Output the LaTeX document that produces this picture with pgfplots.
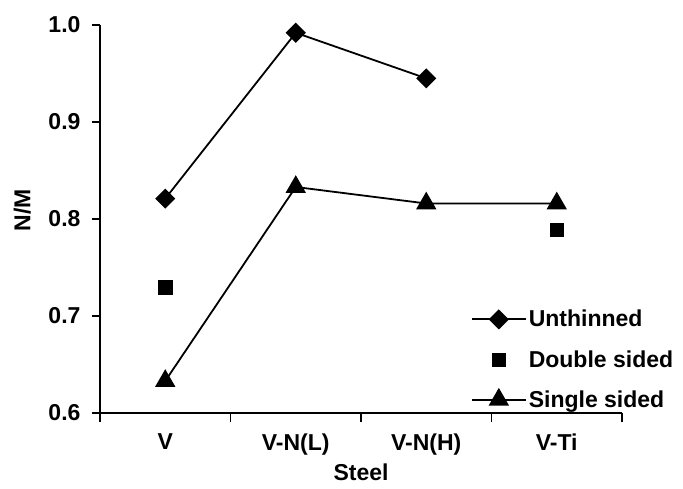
\documentclass[border=0pt]{standalone}
\usepackage{pgfplots}
\pgfplotsset{compat=1.18}
\usepackage{fontspec}
\setmainfont{Liberation Sans}

\begin{document}
\begin{tikzpicture}
\begin{axis}[
name=ax,
scale only axis,
width=522pt, height=388pt,
xmin=-0.5, xmax=3.5,
ymin=0.6, ymax=1.0,
axis x line*=bottom,
axis y line*=left,
axis line style={line width=1.3pt, black},
tick align=outside,
xtick={0,1,2,3},
xticklabels={V,V-N(L),V-N(H),V-Ti},
minor xtick={-0.5,0.5,1.5,2.5,3.5},
major x tick style={draw=none},
minor x tick style={line width=1.3pt, black},
major y tick style={line width=1.3pt, black},
major tick length=8pt,
minor tick length=9pt,
ytick={0.6,0.7,0.8,0.9,1.0},
yticklabel style={xshift=-8pt, /pgf/number format/.cd, fixed, fixed zerofill, precision=1, assume math mode=true},
xticklabel style={yshift=-9pt},
tick label style={font=\fontsize{23}{27}\selectfont\bfseries},
label style={font=\fontsize{23}{27}\selectfont\bfseries},
xlabel={Steel},
ylabel={N/M},
xlabel style={at={(axis description cs:0.5,-0.152)}, anchor=center},
ylabel style={at={(axis description cs:-0.149,0.523)}, anchor=center},
legend style={draw=none, fill=none, at={(1.108,0.0)}, anchor=south east,
  font=\fontsize{23}{27}\selectfont\bfseries, row sep=18pt},
legend cell align=left,
legend image code/.code={\draw[mark repeat=2,mark phase=2] plot coordinates {(0cm,0cm)(0.95cm,0cm)(1.9cm,0cm)};},
]
% Unthinned
\addplot [black, line width=1.8pt, mark=square*, mark size=6.2pt, mark options={rotate=45, solid}]
coordinates {(0,0.821) (1,0.992) (2,0.945)};
\addlegendentry{Unthinned}
% Double sided
\addplot [black, only marks, mark=square*, mark size=6.8pt,
  legend image code/.code={\draw[only marks] plot coordinates {(0.95cm,0cm)};}]
coordinates {(0,0.730) (3,0.789)};
\addlegendentry{Double sided}
% Single sided
\addplot [black, line width=1.8pt, mark=triangle*, mark size=10pt, mark options={solid}]
coordinates {(0,0.633) (1,0.833) (2,0.816) (3,0.816)};
\addlegendentry{Single sided}
\end{axis}
\pgfresetboundingbox
\path[use as bounding box] ([xshift=-100pt,yshift=-75pt]ax.south west) rectangle ++(683pt,488pt);
\end{tikzpicture}
\end{document}
